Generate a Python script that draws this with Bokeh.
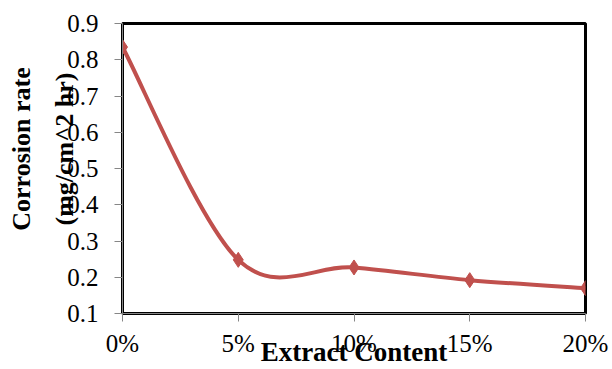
import numpy as np
from bokeh.plotting import figure
from bokeh.models import Range1d, FixedTicker
from bokeh.embed import file_html
from bokeh.resources import INLINE

# Data
extract_pct = [0, 5, 10, 15, 20]
corrosion_rate = [0.835, 0.248, 0.227, 0.192, 0.170]
x_tick_labels = ["0%", "5%", "10%", "15%", "20%"]
y_ticks = [0.1, 0.2, 0.3, 0.4, 0.5, 0.6, 0.7, 0.8, 0.9]

SERIES_COLOR = "#C0504D"
FONT = "'Liberation Serif'"
PAD = "\u00a0" * 6

p = figure(width=612, height=369, output_backend="svg", toolbar_location=None,
           x_range=Range1d(0, 20), y_range=Range1d(0.1, 0.9),
           min_border_left=122, min_border_right=27, min_border_top=23, min_border_bottom=56)
p.background_fill_color = "white"
p.border_fill_color = "white"
p.grid.visible = False
p.outline_line_color = "black"
p.outline_line_width = 3

# axes
p.xaxis.ticker = FixedTicker(ticks=extract_pct)
p.xaxis.major_label_overrides = {v: s for v, s in zip(extract_pct, x_tick_labels)}
p.yaxis.ticker = FixedTicker(ticks=y_ticks)
p.yaxis.major_label_overrides = {v: f"{v:.1f}" for v in y_ticks}
for ax in (p.xaxis, p.yaxis):
    ax.axis_line_color = "#868686"
    ax.major_tick_line_color = "#868686"
    ax.minor_tick_line_color = None
    ax.major_tick_in = 0
    ax.major_tick_out = 8
    ax.major_label_text_font = FONT
    ax.major_label_text_font_size = "25px"
    ax.major_label_text_color = "black"
    ax.axis_label_text_font_style = "bold"
    ax.axis_label_text_font_size = "27px"
    ax.axis_label_text_color = "black"
    ax.axis_label_text_font = FONT
p.yaxis.major_label_standoff = 16
p.xaxis.major_label_standoff = 8

p.xaxis.axis_label = "Extract Content"
p.xaxis.axis_label_standoff = -23
p.yaxis.axis_label = PAD + "Corrosion rate\n" + PAD + "(mg/cm^2 hr)"
p.yaxis.axis_label_text_font_size = "26px"
p.yaxis.axis_label_text_line_height = 1.5
p.yaxis.axis_label_standoff = -15

# smooth curve (Catmull-Rom style bezier, as Excel's smoothed line)
xs = np.array(extract_pct, dtype=float)
ys = np.array(corrosion_rate, dtype=float)
xp = np.concatenate([[xs[0]], xs, [xs[-1]]])
yp = np.concatenate([[ys[0]], ys, [ys[-1]]])
n = len(xs)
x0, y0 = xs[:-1], ys[:-1]
x1, y1 = xs[1:], ys[1:]
cx0 = x0 + (xp[2:n+1] - xp[0:n-1]) / 6
cy0 = y0 + (yp[2:n+1] - yp[0:n-1]) / 6
cx1 = x1 - (xp[3:n+2] - xp[1:n]) / 6
cy1 = y1 - (yp[3:n+2] - yp[1:n]) / 6
p.bezier(x0=x0, y0=y0, x1=x1, y1=y1, cx0=cx0, cy0=cy0, cx1=cx1, cy1=cy1,
         line_color=SERIES_COLOR, line_width=4)
p.scatter(extract_pct, corrosion_rate, marker="diamond", size=15,
          fill_color=SERIES_COLOR, line_color=SERIES_COLOR)

open("out.html", "w").write(file_html(p, INLINE))
